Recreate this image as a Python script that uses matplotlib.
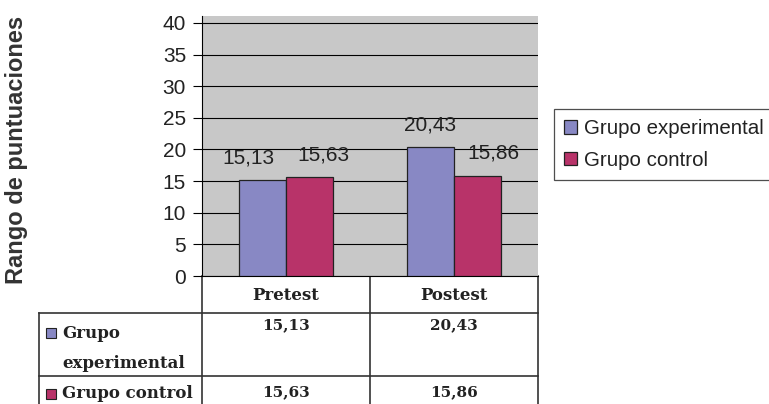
import matplotlib.pyplot as plt
from matplotlib.patches import Patch, Rectangle
import numpy as np

categorias = ['Pretest', 'Postest']
grupos = ['Grupo experimental', 'Grupo control']
etiquetas_tabla = ['Grupo\nexperimental', 'Grupo control']
experimental = [15.13, 20.43]
control = [15.63, 15.86]
yticks = [0, 5, 10, 15, 20, 25, 30, 35, 40]

colores = ['#8888C4', '#B83369']


def fmt(v):
    return f'{v:.2f}'.replace('.', ',')


W, H = 769, 404
fig = plt.figure(figsize=(W / 100, H / 100), dpi=100)
plt.rcParams['font.family'] = ['Liberation Sans', 'DejaVu Sans']

# grafico principal
ax = fig.add_axes([202 / W, (H - 276) / H, 336 / W, 260 / H])
ax.set_facecolor('#C8C8C8')
x = np.arange(len(categorias))
ancho = 0.28
b1 = ax.bar(x - ancho / 2, experimental, ancho, color=colores[0],
            edgecolor='#222222', linewidth=0.9, zorder=3)
b2 = ax.bar(x + ancho / 2, control, ancho, color=colores[1],
            edgecolor='#222222', linewidth=0.9, zorder=3)
ax.set_xlim(-0.5, 1.5)
ax.set_ylim(0, 41.1)
ax.set_yticks(yticks)
ax.set_xticks([])
ax.yaxis.grid(True, color='black', linewidth=0.8)
ax.set_axisbelow(True)
ax.tick_params(axis='y', length=6.5, width=0.8, labelsize=15, pad=5,
               labelcolor='#222222')
for s in ['top', 'right']:
    ax.spines[s].set_visible(False)
ax.spines['left'].set_linewidth(0.8)
ax.spines['bottom'].set_linewidth(0.8)

# etiquetas de datos (desplazadas como en el original)
desp = [[-14, 0], [14, 16]]
for i, barras in enumerate([b1, b2]):
    for j, b in enumerate(barras):
        ax.annotate(fmt(b.get_height()),
                    (b.get_x() + b.get_width() / 2, b.get_height()),
                    xytext=(desp[i][j] * 0.72, 16), textcoords='offset points',
                    ha='center', va='center', fontsize=15, color='#222222')

fig.text(17 / W, 1 - 150 / H, 'Rango de puntuaciones', rotation=90,
         ha='center', va='center', fontsize=17, fontweight='bold', color='#333333')

# leyenda
handles = [Patch(facecolor=c, edgecolor='#222222', linewidth=0.9) for c in colores]
leg = fig.legend(handles, grupos, loc='upper left', bbox_to_anchor=(554 / W, 1 - 109 / H),
                 fontsize=14.8, frameon=True, fancybox=False, borderpad=0.5,
                 labelspacing=0.6, handlelength=0.62, handleheight=0.62,
                 handletextpad=0.35, borderaxespad=0)
leg.get_frame().set_edgecolor('#222222')
leg.get_frame().set_linewidth(0.9)
for t in leg.get_texts():
    t.set_color('#222222')

# tabla de datos
tab = fig.add_axes([0, 0, 1, 1], zorder=-1)
tab.set_xlim(0, W)
tab.set_ylim(H, 0)
tab.axis('off')
lc = '#333333'
lw = 1.2
for xv in [202, 370, 538]:
    tab.plot([xv, xv], [276, H], color=lc, lw=lw)
tab.plot([39, 39], [313, H], color=lc, lw=lw)
for yv in [313, 376]:
    tab.plot([39, 538], [yv, yv], color=lc, lw=lw)

serif = dict(family='DejaVu Serif', fontweight='bold', fontsize=12, color='#222222')
centros = [286, 454]
for cat, cx in zip(categorias, centros):
    tab.text(cx, 295, cat, ha='center', va='center', **serif)

filas = [333, 394]
valores_y = [325, 392]
for k, (serie, lab) in enumerate(zip([experimental, control], etiquetas_tabla)):
    fy = filas[k]
    tab.add_patch(Rectangle((46, fy - 5), 10, 10, facecolor=colores[k],
                            edgecolor='#222222', lw=0.8))
    for n, linea in enumerate(lab.split('\n')):
        tab.text(62, fy + n * 31, linea, ha='left', va='center', **serif)
    for v, cx in zip(serie, centros):
        tab.text(cx, valores_y[k], fmt(v), ha='center', va='center',
                 **{**serif, 'fontsize': 11})

fig.savefig('out.png', dpi=100)
